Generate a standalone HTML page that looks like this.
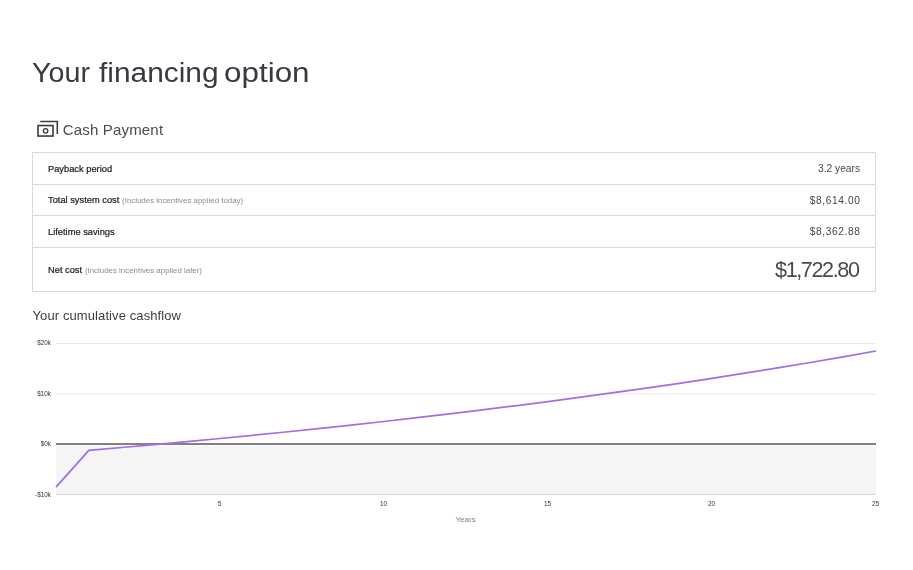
<!DOCTYPE html>
<html>
<head>
<meta charset="utf-8">
<title>Your financing option</title>
<style>
html,body{margin:0;padding:0;background:#fff;}
body{will-change:transform;width:913px;height:570px;position:relative;overflow:hidden;font-family:"Liberation Sans",sans-serif;color:#33343b;}
.abs{position:absolute;white-space:nowrap;}
#title{left:32px;top:56px;font-size:27px;line-height:34px;color:#393a41;width:300px;height:34px;}
#title .w{position:absolute;top:0;left:0;transform-origin:0 0;display:block;}
#cash{left:62.8px;top:119.6px;font-size:15px;line-height:20px;color:#4a4b52;letter-spacing:0.17px;}
#icon{left:35px;top:118px;}
#table{left:32px;top:152px;width:842px;border:1px solid #d9d9db;}
.row{display:flex;align-items:center;justify-content:space-between;height:31px;padding:0 15px;border-bottom:1px solid #d9d9db;font-size:9.3px;}
.row:nth-child(2){height:30px;}
.row:last-child{border-bottom:none;height:43px;}
.lbl{color:#1c1c1f;font-weight:400;-webkit-text-stroke:0.22px #1c1c1f;position:relative;top:0px;}
.sub{color:#8b8b8f;font-size:7.9px;-webkit-text-stroke:0;margin-left:0.2px;}
.val{color:#45464c;font-size:10.2px;position:relative;top:0.6px;}
.num{letter-spacing:0.63px;margin-right:-0.63px;}
.big{font-size:21.6px;color:#494a50;letter-spacing:-1.4px;margin-right:1.5px;top:0.4px !important;}
.row:nth-child(1) .val{top:-0.4px;}
.row:nth-child(2) .val{top:0.4px;}
.row:nth-child(3) .val{top:-0.4px;}
#cum{left:32.5px;top:307px;font-size:13px;line-height:18px;color:#3c3d44;letter-spacing:0.1px;}
.tick{font-size:6.4px;color:#333438;line-height:8px;}
</style>
</head>
<body>
<div id="title" class="abs"><span class="w" style="left:-0.1px;transform:scaleX(1.062)">Your</span><span class="w" style="left:66.6px;transform:scaleX(1.106)">financing</span><span class="w" style="left:191.9px;transform:scaleX(1.163)">option</span></div>
<svg id="icon" class="abs" width="26" height="24" viewBox="0 0 26 24">
  <rect x="3.0" y="7.55" width="15.0" height="10.5" fill="none" stroke="#3a3b42" stroke-width="1.6"/>
  <circle cx="10.6" cy="12.8" r="2.25" fill="none" stroke="#3a3b42" stroke-width="1.35"/>
  <path d="M5.3 3.45 H22.3 V15.9" fill="none" stroke="#3a3b42" stroke-width="1.55"/>
</svg>
<div id="cash" class="abs">Cash Payment</div>

<div id="table" class="abs">
  <div class="row"><span class="lbl">Payback period</span><span class="val">3.2 years</span></div>
  <div class="row"><span class="lbl">Total system cost <span class="sub">(Includes incentives applied today)</span></span><span class="val num">$8,614.00</span></div>
  <div class="row"><span class="lbl">Lifetime savings</span><span class="val num">$8,362.88</span></div>
  <div class="row"><span class="lbl">Net cost <span class="sub">(Includes incentives applied later)</span></span><span class="val big">$1,722.80</span></div>
</div>

<div id="cum" class="abs">Your cumulative cashflow</div>

<svg class="abs" style="left:0;top:330px" width="913" height="210" viewBox="0 330 913 210">
  <rect x="56" y="444" width="820" height="50.5" fill="#f5f5f6"/>
  <rect x="56" y="445" width="820" height="1.4" fill="#fafafa"/>
  <line x1="56" x2="876" y1="343.5" y2="343.5" stroke="#e7e7ea" stroke-width="1"/>
  <line x1="56" x2="876" y1="394" y2="394" stroke="#e7e7ea" stroke-width="1"/>
  <line x1="56" x2="876" y1="494.5" y2="494.5" stroke="#d8d8da" stroke-width="1"/>
  <line x1="56" x2="876" y1="444" y2="444" stroke="#5a5a5c" stroke-width="1.6"/>
  <polyline fill="none" stroke="#9f6ee8" stroke-width="1.75" stroke-linejoin="round" stroke-linecap="butt"
   points="56.0,487.2 88.8,450.3 121.6,447.5 154.4,444.6 187.2,441.6 220.0,438.5 252.8,435.3 285.6,432.0 318.4,428.6 351.2,425.1 384.0,421.5 416.8,417.7 449.6,413.9 482.4,409.9 515.2,405.8 548.0,401.6 580.8,397.2 613.6,392.7 646.4,388.1 679.2,383.3 712.0,378.3 744.8,373.2 777.6,367.9 810.4,362.5 843.2,356.8 876.0,351.0"/>
</svg>

<div class="abs tick" style="right:862px;top:339.2px;">$20k</div>
<div class="abs tick" style="right:862px;top:389.6px;">$10k</div>
<div class="abs tick" style="right:862px;top:440.2px;">$0k</div>
<div class="abs tick" style="right:862px;top:491px;">-$10k</div>

<div class="abs tick" style="left:209.5px;width:20px;text-align:center;top:499.8px;">5</div>
<div class="abs tick" style="left:373.5px;width:20px;text-align:center;top:499.8px;">10</div>
<div class="abs tick" style="left:537.5px;width:20px;text-align:center;top:499.8px;">15</div>
<div class="abs tick" style="left:701.5px;width:20px;text-align:center;top:499.8px;">20</div>
<div class="abs tick" style="left:865.5px;width:20px;text-align:center;top:499.8px;">25</div>
<div class="abs tick" style="left:445.6px;width:40px;text-align:center;top:516.2px;font-size:8px;color:#7b7c81;-webkit-text-stroke:0;">Years</div>
</body>
</html>
